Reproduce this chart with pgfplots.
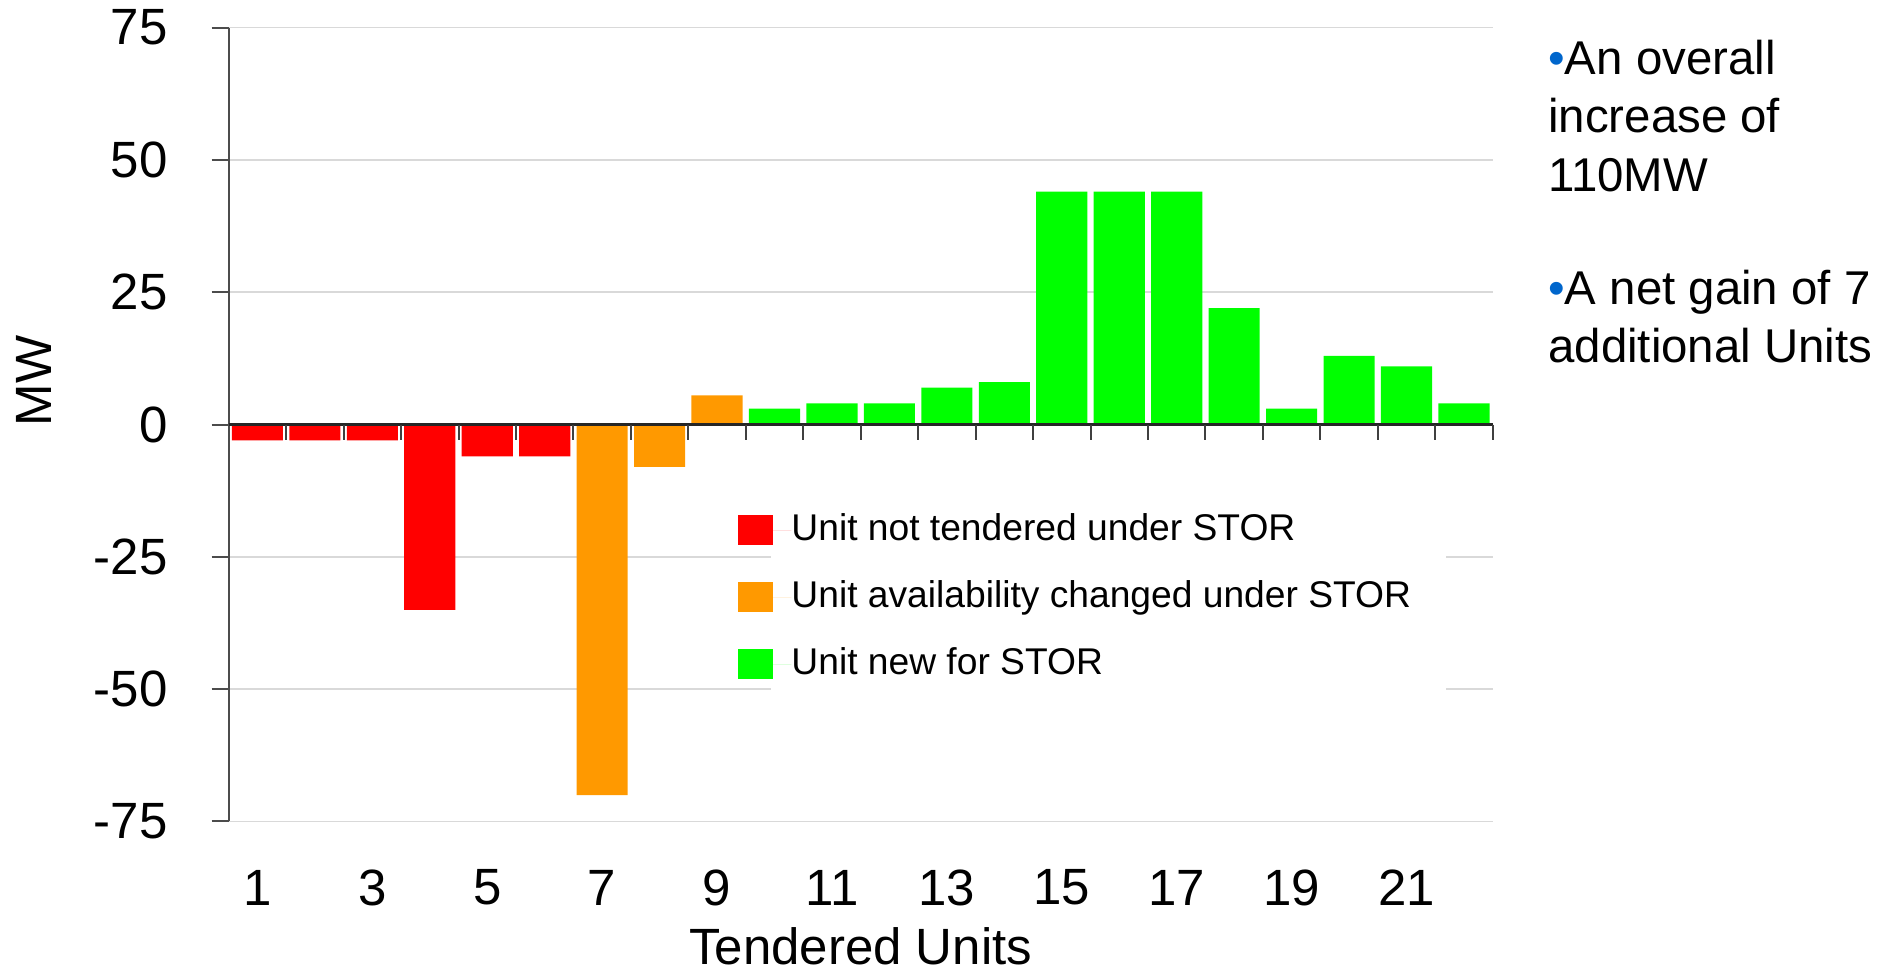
\documentclass[border=0pt]{standalone}
\usepackage{fontspec}
\setmainfont{Liberation Sans}
\usepackage{pgfplots}
\pgfplotsset{compat=1.18}
\definecolor{barred}{HTML}{FF0000}
\definecolor{barorange}{HTML}{FF9900}
\definecolor{bargreen}{HTML}{00FF00}
\definecolor{bulletblue}{HTML}{0066CC}
\definecolor{gridgray}{HTML}{D9D9D9}
\begin{document}
\begin{tikzpicture}
\useasboundingbox (-114.35pt,-77.75pt) rectangle (831.65pt,410.75pt);
\begin{axis}[
  at={(0pt,0pt)}, anchor=south west,
  scale only axis, width=632pt, height=396.9pt,
  xmin=0.5, xmax=22.5, ymin=-75, ymax=75,
  axis y line*=left, axis x line*=bottom,
  x axis line style={draw=none},
  y axis line style={draw=black!70, line width=1pt},
  xtick={1,3,...,21}, xticklabels={1,3,5,7,9,11,13,15,17,19,21},
  xtick style={draw=none},
  ytick={-75,-50,-25,0,25,50,75}, yticklabels={-75,-50,-25,0,25,50,75},
  ytick style={draw=black!70, line width=1pt},
  tick align=outside, major tick length=8.5pt,
  ymajorgrids, grid style={gridgray, line width=0.8pt},
  tick label style={font=\fontsize{25.5}{30}\selectfont},
  yticklabel style={anchor=east, inner sep=0pt, xshift=-21.85pt},
  xticklabel style={anchor=center, inner sep=0pt, yshift=-24.6pt},
  xlabel={Tendered Units}, ylabel={MW},
  label style={font=\fontsize{25.5}{30}\selectfont},
  xlabel style={at={(axis description cs:0.5,0)}, anchor=base, inner sep=0pt, yshift=-71.5pt},
  ylabel style={at={(axis description cs:-0.1544,0.555)}, anchor=center, inner sep=0pt},
  clip=false,
  legend style={at={(rel axis cs:0.4033,0.3862)}, anchor=north west, draw=none, fill=none,
    inner sep=0pt, outer sep=0pt, font=\fontsize{18.6}{21}\selectfont,
    row sep=18.5pt, column sep=0pt,
    nodes={inner sep=0pt, outer sep=0pt, text height=10pt, text depth=0pt}},
  legend cell align=left,
  legend image code/.code={\fill[#1] (0pt,-7.2pt) rectangle (17.5pt,7.8pt); \path (0pt,0pt) -- (26.5pt,0pt);},
]
\addplot[ybar, bar width=0.89, bar shift=0pt, fill=barred, draw=none]
  coordinates {(1,-3) (2,-3) (3,-3) (4,-35) (5,-6) (6,-6)};
\addlegendentry{Unit not tendered under STOR}
\addplot[ybar, bar width=0.89, bar shift=0pt, fill=barorange, draw=none]
  coordinates {(7,-70) (8,-8) (9,5.5)};
\addlegendentry{Unit availability changed under STOR}
\addplot[ybar, bar width=0.89, bar shift=0pt, fill=bargreen, draw=none]
  coordinates {(10,3) (11,4) (12,4) (13,7) (14,8) (15,44) (16,44) (17,44) (18,22) (19,3) (20,13) (21,11) (22,4)};
\addlegendentry{Unit new for STOR}
\fill[white] (axis cs:9.94,-18) rectangle (axis cs:21.69,-55);
\draw[black!85, line width=1.2pt] (axis cs:0.5,0) -- (axis cs:22.5,0);
\addplot[ycomb, black!75, line width=1pt, no markers, forget plot]
  coordinates {(1.5,-2.83) (2.5,-2.83) (3.5,-2.83) (4.5,-2.83) (5.5,-2.83) (6.5,-2.83) (7.5,-2.83) (8.5,-2.83) (9.5,-2.83) (10.5,-2.83) (11.5,-2.83) (12.5,-2.83) (13.5,-2.83) (14.5,-2.83) (15.5,-2.83) (16.5,-2.83) (17.5,-2.83) (18.5,-2.83) (19.5,-2.83) (20.5,-2.83) (21.5,-2.83) (22.5,-2.83)};
\end{axis}
\begin{scope}[every node/.style={anchor=base west, inner sep=0pt, font=\fontsize{23.7}{29}\selectfont}]
\node at (659.6pt,373.25pt) {\textcolor{bulletblue}{•}An overall};
\node at (659.6pt,344.25pt) {increase of};
\node at (659.6pt,314.75pt) {110MW};
\node at (659.6pt,258.25pt) {\textcolor{bulletblue}{•}A net gain of 7};
\node at (659.6pt,229.25pt) {additional Units};
\end{scope}
\end{tikzpicture}
\end{document}
